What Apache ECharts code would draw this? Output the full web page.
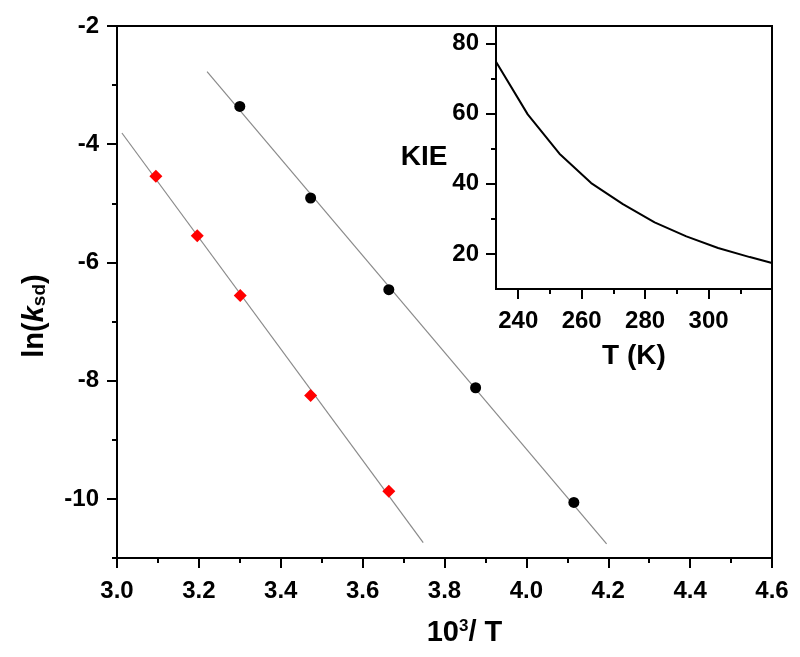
<!DOCTYPE html>
<html><head><meta charset="utf-8">
<script src="https://cdn.jsdelivr.net/npm/echarts@6/dist/echarts.min.js"></script>
<style>html,body{margin:0;padding:0;background:#fff}#c{width:800px;height:657px}</style>
</head><body><div id="c"></div>
<script>
// Main plot data (10^3/T vs ln(k_sd))
const blackX = [3.30, 3.473, 3.664, 3.876, 4.116];
const blackY = [-3.36, -4.91, -6.46, -8.12, -10.06];
const redX = [3.095, 3.196, 3.301, 3.473, 3.664];
const redY = [-4.54, -5.55, -6.56, -8.25, -9.87];
const blackFitX = [3.22, 4.196];
const blackFitY = [-2.77, -10.76];
const redFitX = [3.012, 3.748];
const redFitY = [-3.81, -10.74];
// Inset data (T vs KIE)
const insetT = [233, 243, 253, 263, 273, 283, 293, 303, 313, 320];
const insetKIE = [74.8, 59.8, 48.6, 40.2, 34.2, 29.0, 25.0, 21.7, 19.1, 17.4];
// Tick values
const mainYLabels = [-10, -8, -6, -4, -2];
const mainYMinor = [-11, -9, -7, -5, -3];
const insetXLabels = [240, 260, 280, 300];
const insetXMinor = [250, 270, 290, 310];
const insetYLabels = [20, 40, 60, 80];
const insetYMinor = [30, 50, 70];

const zip = (a, b) => a.map((v, i) => [v, b[i]]);
const FONT = 'Liberation Sans';
const lab = (margin) => ({ fontFamily: FONT, fontWeight: 'bold', fontSize: 24, color: '#000', margin: margin });
const axLine = { show: true, onZero: false, lineStyle: { color: '#000', width: 2 } };

const chart = echarts.init(document.getElementById('c'), null, { renderer: 'canvas' });
chart.setOption({
  animation: false,
  backgroundColor: '#fff',
  grid: [
    { left: 117, top: 26, width: 655, height: 532, show: true, borderColor: '#000', borderWidth: 2, backgroundColor: 'transparent' },
    { left: 496, top: 26, width: 276, height: 263, show: true, borderColor: '#000', borderWidth: 2, backgroundColor: '#fff' }
  ],
  xAxis: [
    { type: 'value', gridIndex: 0, position: 'bottom', min: 3.0, max: 4.6, interval: 0.2,
      axisLine: axLine, splitLine: { show: false },
      axisTick: { show: true, length: 10, lineStyle: { color: '#000', width: 2 } },
      minorTick: { show: true, splitNumber: 2, length: 5, lineStyle: { color: '#000', width: 2 } },
      axisLabel: Object.assign(lab(21), { formatter: v => v.toFixed(1) }),
      name: '10{sup|3}/ T', nameLocation: 'middle', nameGap: 60,
      nameTextStyle: { fontFamily: FONT, fontWeight: 'bold', fontSize: 29, color: '#000', padding: [0, 0, 0, 40],
        rich: { sup: { fontFamily: FONT, fontWeight: 'bold', fontSize: 17, color: '#000', verticalAlign: 'top', lineHeight: 14 } } } },
    { type: 'value', gridIndex: 1, position: 'bottom', min: 233, max: 320,
      axisLine: axLine, splitLine: { show: false },
      axisTick: { show: true, length: 10, customValues: insetXLabels, lineStyle: { color: '#000', width: 2 } },
      axisLabel: Object.assign(lab(20), { customValues: insetXLabels }),
      name: 'T (K)', nameLocation: 'middle', nameGap: 53,
      nameTextStyle: { fontFamily: FONT, fontWeight: 'bold', fontSize: 28, color: '#000' } },
    { type: 'value', gridIndex: 1, position: 'bottom', offset: 0, min: 233, max: 320,
      axisLine: { show: false }, splitLine: { show: false },
      axisTick: { show: true, length: 5, customValues: insetXMinor, lineStyle: { color: '#000', width: 2 } },
      axisLabel: { show: false } }
  ],
  yAxis: [
    { type: 'value', gridIndex: 0, position: 'left', min: -11, max: -2,
      axisLine: axLine, splitLine: { show: false },
      axisTick: { show: true, length: 10, customValues: mainYLabels, lineStyle: { color: '#000', width: 2 } },
      axisLabel: Object.assign(lab(18), { customValues: mainYLabels }),
      name: 'ln({i|k}{s|sd})', nameLocation: 'middle', nameGap: 68, nameRotate: 90,
      nameTextStyle: { fontFamily: FONT, fontWeight: 'bold', fontSize: 29, color: '#000', padding: [0, 48, 0, 0],
        rich: {
          i: { fontFamily: FONT, fontWeight: 'bold', fontStyle: 'italic', fontSize: 29, color: '#000' },
          s: { fontFamily: FONT, fontWeight: 'bold', fontSize: 19, color: '#000', verticalAlign: 'bottom', lineHeight: 15 }
        } } },
    { type: 'value', gridIndex: 0, position: 'left', offset: 0, min: -11, max: -2,
      axisLine: { show: false }, splitLine: { show: false },
      axisTick: { show: true, length: 5, customValues: mainYMinor, lineStyle: { color: '#000', width: 2 } },
      axisLabel: { show: false } },
    { type: 'value', gridIndex: 1, position: 'left', min: 10, max: 85,
      axisLine: axLine, splitLine: { show: false },
      axisTick: { show: true, length: 10, customValues: insetYLabels, lineStyle: { color: '#000', width: 2 } },
      axisLabel: Object.assign(lab(17), { customValues: insetYLabels }),
      name: 'KIE', nameLocation: 'middle', nameGap: 47, nameRotate: 0,
      nameTextStyle: { fontFamily: FONT, fontWeight: 'bold', fontSize: 28, color: '#000', padding: [0, 0, 20, 0] } },
    { type: 'value', gridIndex: 1, position: 'left', offset: 0, min: 10, max: 85,
      axisLine: { show: false }, splitLine: { show: false },
      axisTick: { show: true, length: 5, customValues: insetYMinor, lineStyle: { color: '#000', width: 2 } },
      axisLabel: { show: false } }
  ],
  series: [
    { type: 'line', xAxisIndex: 0, yAxisIndex: 0, data: zip(blackFitX, blackFitY), symbol: 'none',
      lineStyle: { color: '#8a8a8a', width: 1.2 }, z: 2 },
    { type: 'line', xAxisIndex: 0, yAxisIndex: 0, data: zip(redFitX, redFitY), symbol: 'none',
      lineStyle: { color: '#8a8a8a', width: 1.2 }, z: 2 },
    { type: 'scatter', xAxisIndex: 0, yAxisIndex: 0, data: zip(blackX, blackY), symbol: 'circle', symbolSize: 11,
      itemStyle: { color: '#000', opacity: 1 }, z: 3 },
    { type: 'scatter', xAxisIndex: 0, yAxisIndex: 0, data: zip(redX, redY), symbol: 'diamond', symbolSize: 13,
      itemStyle: { color: '#ff0000', opacity: 1 }, z: 3 },
    { type: 'line', xAxisIndex: 1, yAxisIndex: 2, data: zip(insetT, insetKIE), symbol: 'none',
      lineStyle: { color: '#000', width: 2 }, z: 3 }
  ]
});
</script></body></html>
